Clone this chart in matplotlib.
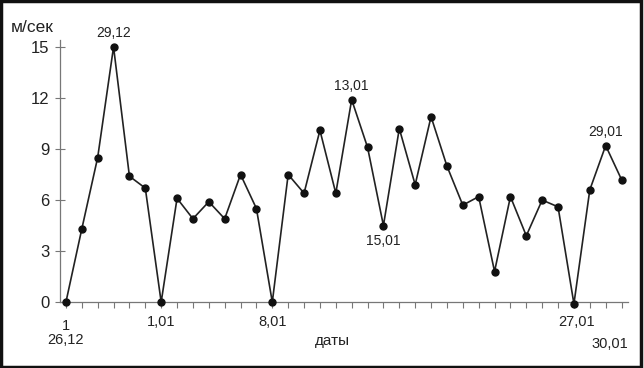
import numpy as np
import matplotlib.pyplot as plt
from matplotlib.patches import Rectangle

plt.rcParams['font.family'] = ['Liberation Sans', 'DejaVu Sans']

# скорость ветра по дням, 26.12 - 30.01
speed = [0, 4.3, 8.5, 15.0, 7.4, 6.7, 0, 6.1, 4.9, 5.9, 4.9, 7.5, 5.5, 0,
         7.5, 6.4, 10.1, 6.4, 11.9, 9.1, 4.5, 10.2, 6.9, 10.9, 8.0, 5.7,
         6.2, 1.8, 6.2, 3.9, 6.0, 5.6, -0.1, 6.6, 9.2, 7.2]
days = np.arange(len(speed))

# подписи дат под осью
date_idx = [0, 6, 13, 32, 35]
date_labels = ['26,12', '1,01', '8,01', '27,01', '30,01']

# подписи у точек: индекс, текст, сверху/снизу
point_notes = [(3, '29,12', 'above'), (18, '13,01', 'above'),
               (20, '15,01', 'below'), (34, '29,01', 'above')]

fig = plt.figure(figsize=(6.44, 3.68), dpi=100)
ax = fig.add_axes([0.093, 0.179, 0.882, 0.712])

ax.plot(days, speed, color='#222222', lw=1.2, marker='o', ms=5,
        mfc='#111111', mec='#111111', clip_on=False, zorder=3)

ax.set_xlim(-0.38, 35.4)
ax.set_ylim(0, 15.4)
ax.set_yticks([0, 3, 6, 9, 12, 15])
ax.set_xticks(days)
ax.set_xticklabels([])

for s in ['top', 'right']:
    ax.spines[s].set_visible(False)
for s in ['left', 'bottom']:
    ax.spines[s].set_color('#777777')
    ax.spines[s].set_linewidth(0.9)

ax.tick_params(axis='y', direction='inout', length=7, width=0.8,
               colors='#777777', labelcolor='#222222', labelsize=12, pad=4)
ax.tick_params(axis='x', direction='out', length=4, width=0.8,
               colors='#777777')

# подписи дат
offsets = {'26,12': (0, -22.5), '30,01': (5, -25), '27,01': (2, -9.5)}
for i, lab in zip(date_idx, date_labels):
    dx, dy = offsets.get(lab, (0, -9.5))
    ha = 'right' if lab == '30,01' else 'center'
    ax.annotate(lab, (i, 0), xytext=(dx, dy), textcoords='offset points',
                ha=ha, va='top', fontsize=10.5, color='#222222',
                annotation_clip=False)
ax.annotate('1', (0, 0), xytext=(0, -12.5), textcoords='offset points',
            ha='center', va='top', fontsize=10.5, color='#222222',
            annotation_clip=False)

for i, txt, pos in point_notes:
    off = 5 if pos == 'above' else -6
    ax.annotate(txt, (i, speed[i]), xytext=(0, off), textcoords='offset points',
                ha='center', va='bottom' if pos == 'above' else 'top',
                fontsize=10, color='#222222')

fig.text(0.516, 0.073, 'даты', ha='center', va='center', fontsize=11,
         color='#222222')
fig.text(0.016, 0.925, 'м/сек', ha='left', va='center', fontsize=12.5,
         color='#222222')

# рамка вокруг рисунка
fig.patches.append(Rectangle((0.002, 0.004), 0.994, 0.992, transform=fig.transFigure,
                             fill=False, ec='#111111', lw=2.5))

fig.savefig('out.png', dpi=100)
